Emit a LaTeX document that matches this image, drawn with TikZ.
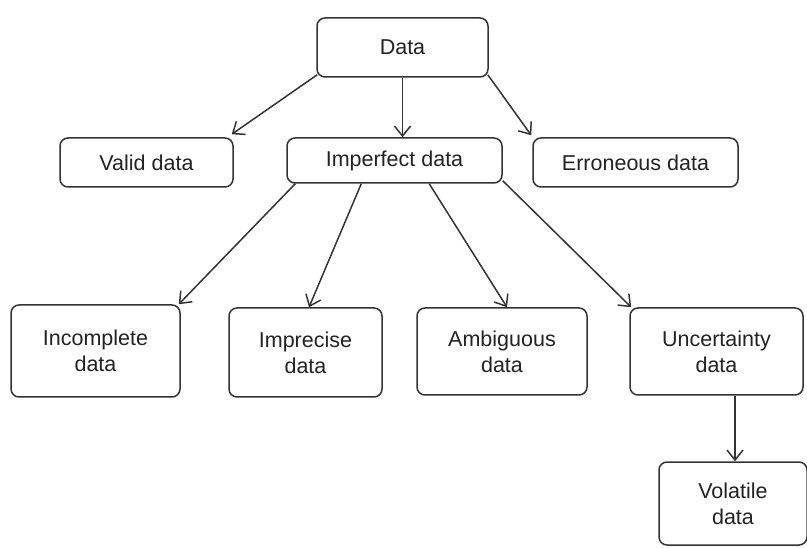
\documentclass[tikz,border=0pt]{standalone}
\usepackage{fontspec}
\setmainfont{Liberation Sans}
\usetikzlibrary{arrows.meta}
\definecolor{linec}{HTML}{333333}
\definecolor{textc}{HTML}{222222}
\tikzset{
  box/.style={draw=linec, line width=1.5pt, rounded corners=8pt, fill=white,
    inner sep=0pt, align=center, text=textc,
    font=\fontsize{21.5}{26}\selectfont},
  arr/.style={draw=linec, line width=1.5pt,
    -{Straight Barb[length=10pt,width=16pt,line width=1.5pt]}}
}
\begin{document}
\begin{tikzpicture}[x=1pt,y=-1pt]
\useasboundingbox (0,0) rectangle (807,548);
\node[box, minimum width=171pt, minimum height=59pt] (data) at (402.5,47.5) {Data};
\node[box, minimum width=173pt, minimum height=49pt] (valid) at (146.5,162.5) {Valid data};
\node[box, minimum width=215pt, minimum height=45pt] (imperfect) at (394.5,160.5) {Imperfect data};
\node[box, minimum width=205pt, minimum height=49pt] (erroneous) at (635.5,162.5) {Erroneous data};
\node[box, minimum width=169pt, minimum height=92pt] (incomplete) at (95.5,351) {Incomplete\\data};
\node[box, minimum width=153pt, minimum height=89pt] (imprecise) at (305.5,352.5) {Imprecise\\data};
\node[box, minimum width=170pt, minimum height=87pt] (ambiguous) at (502,351.5) {Ambiguous\\data};
\node[box, minimum width=173pt, minimum height=87pt] (uncertainty) at (716.5,351.5) {Uncertainty\\data};
\node[box, minimum width=148pt, minimum height=83pt] (volatile) at (733,503.5) {Volatile\\data};

\draw[arr] ([xshift=1pt,yshift=3pt]data.south west) -- ([xshift=-2pt,yshift=3pt]valid.north east);
\draw[arr] (data.south) -- (data.south |- imperfect.north);
\draw[arr] ([xshift=-1pt,yshift=3pt]data.south east) -- ([xshift=-1pt,yshift=2pt]erroneous.north west);

\draw[arr] ([xshift=9pt]imperfect.south west) -- ([xshift=-2pt]incomplete.north east);
\draw[arr] ([xshift=75pt]imperfect.south west) -- ([xshift=3.5pt]imprecise.north);
\draw[arr] ([xshift=143pt]imperfect.south west) -- ([xshift=5pt]ambiguous.north);
\draw[arr] ([yshift=3pt]imperfect.south east) -- ([xshift=2pt]uncertainty.north west);

\draw[arr] ([xshift=18.5pt]uncertainty.south) -- ([xshift=2pt]volatile.north);
\end{tikzpicture}
\end{document}
